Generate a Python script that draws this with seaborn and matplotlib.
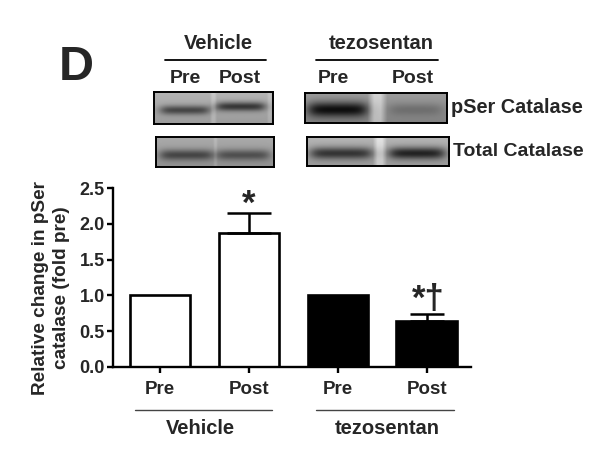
import numpy as np
import pandas as pd
import matplotlib
matplotlib.use("Agg")
import matplotlib.pyplot as plt
import seaborn as sns

sns.set_style("white")
plt.rcParams['font.family'] = ['Liberation Sans', 'DejaVu Sans']
plt.rcParams['font.weight'] = 'bold'

# ---------------- data ----------------
groups = ["Vehicle", "Vehicle", "tezosentan", "tezosentan"]
conditions = ["Pre", "Post", "Pre", "Post"]
values = [1.00, 1.88, 1.00, 0.645]
errors_up = [0.0, 0.28, 0.0, 0.10]
annotations = ["", "*", "", "*†"]
bar_colors = ["white", "white", "black", "black"]
y_ticks = [0.0, 0.5, 1.0, 1.5, 2.0, 2.5]
y_label = "Relative change in pSer\ncatalase (fold pre)"
panel_letter = "D"
blot_rows = ["pSer Catalase", "Total Catalase"]

# blot band specs: (x_start, x_end, y_center, band_darkness, thickness)
veh_pser_bands = [(0.06, 0.46, 0.58, 0.38, 0.20), (0.53, 0.93, 0.47, 0.45, 0.20)]
veh_total_bands = [(0.04, 0.47, 0.60, 0.34, 0.26), (0.52, 0.95, 0.60, 0.30, 0.26)]
tez_pser_bands = [(0.03, 0.43, 0.55, 0.50, 0.36), (0.60, 0.96, 0.55, 0.12, 0.30)]
tez_total_bands = [(0.03, 0.45, 0.56, 0.45, 0.30), (0.58, 0.96, 0.56, 0.52, 0.30)]

df = pd.DataFrame({"label": [g + " " + c for g, c in zip(groups, conditions)],
                   "value": values})

W, H = 600, 459
fig = plt.figure(figsize=(W / 100, H / 100), dpi=100)


def fx(x):
    return x / W


def fy(y):
    return 1 - y / H


# ---------------- bar chart ----------------
ax = fig.add_axes([fx(113), fy(366.7), (471 - 113) / W, (366.7 - 188.3) / H])
sns.barplot(data=df, x="label", y="value", hue="label", palette=bar_colors,
            edgecolor="black", linewidth=1.9, width=0.68, errorbar=None,
            legend=False, ax=ax, saturation=1)
pos = np.arange(len(values))
capsizes = [0, 15.5, 0, 12.5]
for i in range(len(values)):
    if errors_up[i] > 0:
        ax.errorbar(pos[i], values[i], yerr=[[0], [errors_up[i]]], fmt="none",
                    ecolor="black", elinewidth=1.8, capsize=capsizes[i],
                    capthick=1.8)
ax.set_xlim(-0.53, 3.5)
ax.set_ylim(0, 2.5)
ax.set_yticks(y_ticks)
ax.set_yticklabels([f"{t:.1f}" for t in y_ticks], fontsize=13, fontweight="bold")
ax.set_xticks(pos)
ax.set_xticklabels(conditions, fontsize=13.5, fontweight="bold")
ax.set_xlabel("")
ax.set_ylabel("")
for s in ["top", "right"]:
    ax.spines[s].set_visible(False)
for s in ["left", "bottom"]:
    ax.spines[s].set_linewidth(1.7)
    ax.spines[s].set_color("black")
ax.tick_params(axis="both", direction="out", length=4, width=1.7, color="black",
               left=True, bottom=True)
ax.tick_params(axis="x", pad=6)
ax.tick_params(axis="y", pad=2)

# significance marks
ax.text(pos[1], values[1] + errors_up[1] - 0.12, annotations[1], ha="center",
        va="bottom", fontsize=25, fontweight="bold")
ax.text(pos[3] + 0.02, values[3] + errors_up[3] - 0.04, annotations[3], ha="center",
        va="bottom", fontsize=25, fontweight="bold")

# y label
fig.text(fx(51), fy(288), y_label, rotation=90, ha="center", va="center",
         fontsize=13.7, fontweight="bold", linespacing=1.25, multialignment="center")

# group labels beneath axis
group_names = ["Vehicle", "tezosentan"]
group_line_x = [(135, 272), (316, 454)]
group_text_x = [200, 387]
for name, (x0, x1), tx in zip(group_names, group_line_x, group_text_x):
    fig.add_artist(plt.Line2D([fx(x0), fx(x1)], [fy(410), fy(410)],
                              color="#444444", lw=1.0))
    fig.text(fx(tx), fy(428.5), name, ha="center", va="center", fontsize=14.5,
             fontweight="bold")

# ---------------- header ----------------
fig.text(fx(76), fy(67.5), panel_letter, ha="center", va="center", fontsize=35,
         fontweight="bold")
header_text_x = [218.5, 381]
header_line_x = [(165, 266), (316, 438)]
lane_text_x = [(185, 240), (333, 412.5)]
for name, tx, (x0, x1), (lx0, lx1) in zip(group_names, header_text_x,
                                         header_line_x, lane_text_x):
    fig.text(fx(tx), fy(43.5), name, ha="center", va="center", fontsize=14.5,
             fontweight="bold")
    fig.add_artist(plt.Line2D([fx(x0), fx(x1)], [fy(60), fy(60)],
                              color="black", lw=1.3))
    fig.text(fx(lx0), fy(78), conditions[0], ha="center", va="center",
             fontsize=14, fontweight="bold")
    fig.text(fx(lx1), fy(78), conditions[1], ha="center", va="center",
             fontsize=14, fontweight="bold")


def make_blot(bands, bg, gaps):
    ny, nx = 60, 240
    yy = np.linspace(0, 1, ny)[:, None]
    xx = np.linspace(0, 1, nx)[None, :]
    img = np.full((ny, nx), bg) + 0.10 * (0.5 - yy)
    for (g0, g1, gv) in gaps:
        m = np.clip(1 - np.abs(xx - (g0 + g1) / 2) / ((g1 - g0) / 2 + 1e-6), 0, 1)
        img = img + (gv - bg) * np.clip(m * 1.5, 0, 1) * np.ones_like(yy)
    for (x0, x1, yc, d, th) in bands:
        horiz = 1 / (1 + np.exp(-(xx - x0) / 0.025)) * 1 / (1 + np.exp((xx - x1) / 0.025))
        vert = np.exp(-0.5 * ((yy - yc) / (th / 2)) ** 2)
        img = img - d * horiz * vert
    return np.clip(img, 0, 1)


blot_specs = [
    ([154, 91.7, 272.7, 124], veh_pser_bands, 0.66, [(0.47, 0.53, 0.74), (0.95, 1.0, 0.72)]),
    ([155.7, 136.7, 274.3, 166.7], veh_total_bands, 0.62, [(0.48, 0.52, 0.68)]),
    ([305, 92.7, 446.7, 122.7], tez_pser_bands, 0.56, [(0.44, 0.58, 0.78)]),
    ([307, 137.3, 449.3, 165.7], tez_total_bands, 0.66, [(0.46, 0.56, 0.84)]),
]
for (x0, y0, x1, y1), bands, bg, gaps in blot_specs:
    bax = fig.add_axes([fx(x0), fy(y1), (x1 - x0) / W, (y1 - y0) / H])
    bax.imshow(make_blot(bands, bg, gaps), cmap="gray", vmin=0, vmax=1,
               aspect="auto", interpolation="bilinear")
    bax.set_xticks([])
    bax.set_yticks([])
    for s in bax.spines.values():
        s.set_visible(True)
        s.set_linewidth(1.4)
        s.set_color("black")

fig.text(fx(451.5), fy(107.3), blot_rows[0], ha="left", va="center", fontsize=14.3,
         fontweight="bold")
fig.text(fx(453), fy(151.7), blot_rows[1], ha="left", va="center", fontsize=14,
         fontweight="bold")

fig.savefig("out.png", dpi=100, facecolor="white")
